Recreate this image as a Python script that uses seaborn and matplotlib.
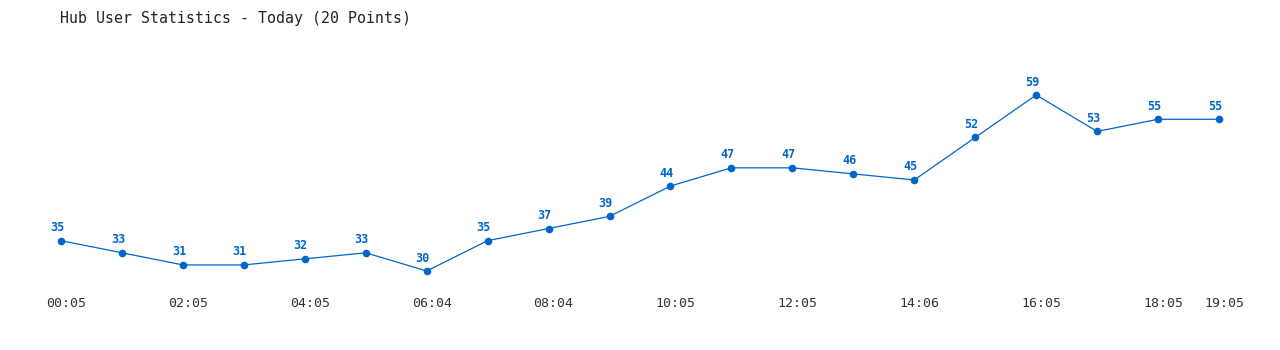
import matplotlib
matplotlib.use("Agg")
import matplotlib.pyplot as plt
import matplotlib.transforms as mtransforms
import seaborn as sns
import pandas as pd

times = ["00:05", "01:05", "02:05", "03:05", "04:05", "05:05", "06:04", "07:04", "08:04", "09:04",
         "10:05", "11:05", "12:05", "13:05", "14:06", "15:05", "16:05", "17:05", "18:05", "19:05"]
users = [35, 33, 31, 31, 32, 33, 30, 35, 37, 39, 44, 47, 47, 46, 45, 52, 59, 53, 55, 55]
tick_idx = [0, 2, 4, 6, 8, 10, 12, 14, 16, 18, 19]
title = "Hub User Statistics - Today (20 Points)"

sns.set_theme(style="white")
plt.rcParams['font.family'] = ['DejaVu Sans Mono', 'DejaVu Sans']

blue = "#0066cc"
df = pd.DataFrame({"idx": list(range(len(users))), "users": users})

fig = plt.figure(figsize=(12.8, 3.5), dpi=100)
ax = fig.add_axes([61/1280, (350-271)/350, (1219-61)/1280, (271-95)/350])
sns.lineplot(data=df, x="idx", y="users", ax=ax, color=blue, linewidth=0.9,
             marker="o", markersize=5.5, markeredgewidth=0, clip_on=False)
for i, v in enumerate(users):
    ax.annotate(str(v), (i, v), xytext=(-4, 13), textcoords="offset pixels",
                ha="center", va="center", fontsize=8.5, fontweight="bold", color=blue)
ax.set_xlim(0, len(users) - 1)
ax.set_ylim(min(users), max(users))
ax.set_xticks(tick_idx)
ax.set_xticklabels([times[i] for i in tick_idx])
ax.set_yticks([])
ax.tick_params(axis="x", length=0, pad=18.5, labelsize=9.5, labelcolor="#333333")
offset = mtransforms.ScaledTranslation(5/100, 0, fig.dpi_scale_trans)
for lab in ax.get_xticklabels():
    lab.set_transform(lab.get_transform() + offset)
ax.set_xlabel("")
ax.set_ylabel("")
for s in ax.spines.values():
    s.set_visible(False)
ax.patch.set_alpha(0)

fig.text(60/1280, 1 - 18/350, title, ha="left", va="center", fontsize=10.75, color="#222222")
fig.savefig("out.png", dpi=100)
